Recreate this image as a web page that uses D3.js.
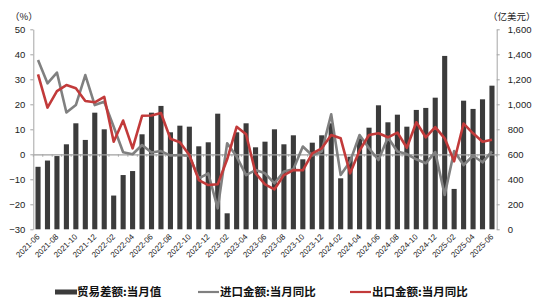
<!DOCTYPE html>
<html><head><meta charset="utf-8">
<script src="https://cdn.jsdelivr.net/npm/d3@7"></script>
<style>body{margin:0;background:#fff}svg{display:block}</style>
</head><body>
<script>
const months = [
"2021-06","2021-07","2021-08","2021-09","2021-10","2021-11","2021-12",
"2022-01","2022-02","2022-03","2022-04","2022-05","2022-06","2022-07","2022-08","2022-09","2022-10","2022-11","2022-12",
"2023-01","2023-02","2023-03","2023-04","2023-05","2023-06","2023-07","2023-08","2023-09","2023-10","2023-11","2023-12",
"2024-01","2024-02","2024-03","2024-04","2024-05","2024-06","2024-07","2024-08","2024-09","2024-10","2024-11","2024-12",
"2025-01","2025-02","2025-03","2025-04","2025-05","2025-06"];
// 贸易差额:当月值 (亿美元, right axis)
const tradeBalance = [500,550,586,680,848,715,933,
800,270,434,466,760,933,987,776,829,821,664,696,
925,128,776,848,656,701,800,680,752,560,693,752,
848,408,581,728,813,992,856,917,821,955,971,1053,
1387,323,1029,963,1040,1149];
// 进口金额:当月同比 (%)
const importYoY = [37.7,28.4,32.7,16.7,19.7,31.7,19.7,
21,11,0.8,0,3.7,0.7,1.3,-0.5,-0.3,-0.7,-9.6,-7.6,
-21.6,4.4,-0.9,-8.3,-6.3,-7.6,-11.6,-6.9,-6,3.1,-0.5,1.1,
16,-8.3,-2.9,7.7,2.4,-2.3,6.7,1.1,0.1,-2,-3.6,0.9,
-16.3,1.3,-4.3,-0.6,-3.2,1.2];
// 出口金额:当月同比 (%)
const exportYoY = [32,18.7,25.3,27.7,26.4,21.3,20.8,
23,5,13.5,2.4,15.4,15.5,16.5,6.2,4.8,-0.3,-10.3,-12.3,
-12,-2,11,8,-7.5,-12,-14,-8.3,-6.3,-6.4,0.4,2.4,
7.7,6.4,-7.6,1.5,7.7,8.4,6.8,8.7,2.6,12.8,6.8,10.9,
6.4,-2.8,12.3,8.4,5,5.8];
const leftTicks = [-30,-20,-10,0,10,20,30,40,50];
const rightTicks = [0,200,400,600,800,1000,1200,1400,1600];
const xLabels = months.filter((d,i)=>i%2===0);
const seriesNames = ["贸易差额:当月值","进口金额:当月同比","出口金额:当月同比"];

const W=544,H=302;
const L=33.3,R=496.7,T=29.3,B=229.3;
const svg=d3.select("body").append("svg").attr("width",W).attr("height",H)
  .style("font-family","'Liberation Sans',Arial,sans-serif");

const x=d3.scaleBand().domain(months).range([L,R]).paddingInner(0.46).paddingOuter(0.23);
const yL=d3.scaleLinear().domain([-30,50]).range([B,T]);
const yR=d3.scaleLinear().domain([0,1600]).range([B,T]);
const cx=d=>x(d)+x.bandwidth()/2;

// bars
svg.append("g").selectAll("rect").data(months).join("rect")
  .attr("x",d=>x(d)).attr("width",x.bandwidth())
  .attr("y",(d,i)=>yR(Math.max(0,tradeBalance[i])))
  .attr("height",(d,i)=>Math.abs(yR(0)-yR(tradeBalance[i])))
  .attr("fill","#3b3b3b");

// zero line with category ticks
const z=svg.append("g").attr("transform",`translate(0,${yL(0)})`)
  .call(d3.axisBottom(x).tickValues([]).tickSizeOuter(0));
z.select(".domain").attr("stroke","#a0a0a0").attr("stroke-width",1.2);
const step=x.step();
z.selectAll(".zt").data(d3.range(months.length+1)).join("line")
  .attr("x1",i=>L+i*step).attr("x2",i=>L+i*step).attr("y1",0).attr("y2",2.5)
  .attr("stroke","#a0a0a0").attr("stroke-width",0.8);

// left axis
const gl=svg.append("g").attr("transform",`translate(${L},0)`)
  .call(d3.axisLeft(yL).tickValues(leftTicks).tickSize(3).tickPadding(5).tickSizeOuter(0));
gl.select(".domain").attr("stroke","#a6a6a6");
gl.selectAll(".tick line").attr("stroke","#a6a6a6");
gl.selectAll("text").attr("font-size",9.5).attr("fill","#222");

// right axis
const gr=svg.append("g").attr("transform",`translate(${R},0)`)
  .call(d3.axisRight(yR).tickValues(rightTicks).tickFormat(d3.format(",")).tickSize(3).tickPadding(8).tickSizeOuter(0));
gr.select(".domain").attr("stroke","#a6a6a6");
gr.selectAll(".tick line").attr("stroke","#a6a6a6");
gr.selectAll("text").attr("font-size",9.5).attr("fill","#222");

// x labels
svg.append("g").selectAll("text").data(xLabels).join("text")
  .attr("transform",d=>`translate(${cx(d)+2},${B+8}) rotate(-45)`)
  .attr("text-anchor","end").attr("font-size",8).attr("fill","#222").text(d=>d);

// lines
const line=arr=>d3.line().x((d,i)=>cx(months[i])).y(d=>yL(d))(arr);
svg.append("path").attr("d",line(importYoY)).attr("fill","none")
  .attr("stroke","#808080").attr("stroke-width",2.6).attr("stroke-linejoin","round");
svg.append("path").attr("d",line(exportYoY)).attr("fill","none")
  .attr("stroke","#c23a3a").attr("stroke-width",2.6).attr("stroke-linejoin","round");

// unit labels
svg.append("text").attr("x",10).attr("y",20).attr("font-size",9.5).attr("fill","#222")
  .style("font-family","'Noto Sans CJK SC',sans-serif").text("（%）");
svg.append("text").attr("x",488).attr("y",20).attr("font-size",9.5).attr("fill","#222")
  .style("font-family","'Noto Sans CJK SC',sans-serif").text("（亿美元）");

// legend
const lg=svg.append("g").style("font-family","'Noto Sans CJK SC',sans-serif");
const lx=[55,198,350];
const ly=292;
lg.append("rect").attr("x",lx[0]).attr("y",ly-2.5).attr("width",22).attr("height",5).attr("fill","#3b3b3b");
lg.append("line").attr("x1",lx[1]).attr("x2",lx[1]+21).attr("y1",ly).attr("y2",ly).attr("stroke","#808080").attr("stroke-width",2.2);
lg.append("line").attr("x1",lx[2]).attr("x2",lx[2]+21).attr("y1",ly).attr("y2",ly).attr("stroke","#c23a3a").attr("stroke-width",2.2);
lg.selectAll("text.l").data(seriesNames).join("text")
  .attr("x",(d,i)=>lx[i]+22).attr("y",ly+4).attr("font-size",11.5).attr("font-weight","bold")
  .attr("fill","#111").text(d=>d);
</script>
</body></html>
